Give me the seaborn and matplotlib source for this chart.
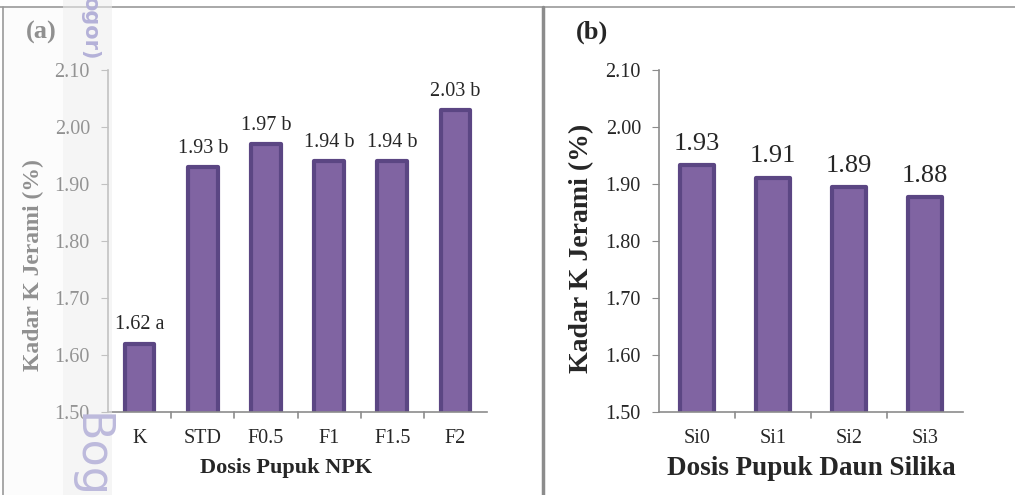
import numpy as np
import pandas as pd
import matplotlib.pyplot as plt
import seaborn as sns
from matplotlib.lines import Line2D
from matplotlib.patches import Rectangle

# data panel (a)
npk_levels = ['K', 'STD', 'F0.5', 'F1', 'F1.5', 'F2']
npk_values = [1.62, 1.93, 1.97, 1.94, 1.94, 2.03]
npk_letters = ['a', 'b', 'b', 'b', 'b', 'b']

# data panel (b)
si_levels = ['Si0', 'Si1', 'Si2', 'Si3']
si_values = [1.933, 1.911, 1.895, 1.877]
si_labels = ['1.93', '1.91', '1.89', '1.88']

yticks = [1.50, 1.60, 1.70, 1.80, 1.90, 2.00, 2.10]

sns.set_style('white')
plt.rcParams['font.family'] = ['Liberation Serif', 'DejaVu Serif']

fill = '#8064A2'
edge = '#5B4683'
axis_gray = '#8C8C8C'

fig = plt.figure(figsize=(10.15, 4.95), dpi=100)
W, H = 1015, 495

def px_axes(left, top, right, bottom):
    return fig.add_axes([left / W, 1 - bottom / H, (right - left) / W, (bottom - top) / H])

ax1 = px_axes(108, 70, 487, 412)
ax2 = px_axes(659, 70, 963, 412)

df1 = pd.DataFrame({'dosis': npk_levels, 'kadar': npk_values})
df2 = pd.DataFrame({'dosis': si_levels, 'kadar': si_values})

sns.barplot(data=df1, x='dosis', y='kadar', ax=ax1, color=fill, width=0.47,
            edgecolor=edge, linewidth=3, saturation=1)
sns.barplot(data=df2, x='dosis', y='kadar', ax=ax2, color=fill, width=0.45,
            edgecolor=edge, linewidth=3, saturation=1)

for ax, n in [(ax1, len(npk_levels)), (ax2, len(si_levels))]:
    for p in ax.patches:
        p.set_joinstyle('round')
    ax.set_ylim(1.50, 2.10)
    ax.set_xlim(-0.5, n - 0.5)
    ax.set_yticks(yticks)
    ax.set_yticklabels([f'{t:.2f}' for t in yticks], fontsize=14.5)
    ax.set_xticks(range(n))
    ax.tick_params(axis='x', length=0, labelsize=14.5, pad=12)
    ax.tick_params(axis='y', length=5, color=axis_gray, direction='out', pad=8, left=True)
    # category boundary ticks
    for b in np.arange(0.5, n - 0.5, 1.0):
        ax.add_line(Line2D([b, b], [0, -0.018], transform=ax.get_xaxis_transform(),
                           color=axis_gray, lw=1.2, clip_on=False))
    for side in ['top', 'right']:
        ax.spines[side].set_visible(False)
    for side in ['left', 'bottom']:
        ax.spines[side].set_color(axis_gray)
        ax.spines[side].set_linewidth(1.2)

ax1.set_ylabel('Kadar K Jerami (%)', fontsize=17, fontweight='bold')
ax1.yaxis.set_label_coords(-0.169, 0.43)
ax2.set_ylabel('Kadar K Jerami (%)', fontsize=20, fontweight='bold')
ax2.yaxis.set_label_coords(-0.215, 0.477)

ax1.set_xlabel('Dosis Pupuk NPK', fontsize=16, fontweight='bold')
ax1.xaxis.set_label_coords(0.47, -0.135)
ax2.set_xlabel('Dosis Pupuk Daun Silika', fontsize=19.5, fontweight='bold')
ax2.xaxis.set_label_coords(0.5, -0.13)

for i, (v, l) in enumerate(zip(npk_values, npk_letters)):
    ax1.text(i, v + 0.016, f'{v:.2f} {l}', ha='center', va='bottom', fontsize=14.5)
for i, (v, l) in enumerate(zip(si_values, si_labels)):
    ax2.text(i, v + 0.018, l, ha='center', va='bottom', fontsize=19)

fig.text(26 / W, 1 - 32 / H, '(a)', fontsize=19, fontweight='bold', va='center', ha='left')
fig.text(576 / W, 1 - 32 / H, '(b)', fontsize=19, fontweight='bold', va='center', ha='left')

# frame lines
fig.add_artist(Line2D([0, 1], [1 - 7 / H, 1 - 7 / H], color='#9A9A9A', lw=1.2))
fig.add_artist(Line2D([3 / W, 3 / W], [0, 1 - 7 / H], color='#9A9A9A', lw=1.2))
fig.add_artist(Line2D([543 / W, 543 / W], [0, 1 - 7 / H], color='#8C8C8C', lw=2.5))

# watermark strip on the left
fig.add_artist(Rectangle((4 / W, 0), 59 / W, 1 - 8 / H, transform=fig.transFigure,
                         facecolor='#FAFAFA', alpha=0.5, edgecolor='none', zorder=5))
fig.add_artist(Rectangle((63 / W, 0), 49 / W, 1, transform=fig.transFigure,
                         facecolor='#EEEEEE', alpha=0.55, edgecolor='none', zorder=5))
fig.text(90 / W, 1 - 28 / H, 'ogor)', rotation=-90, fontsize=15, color='#B4B1D8',
         fontweight='bold', family=['DejaVu Sans'], ha='center', va='center', zorder=6)
fig.text(90 / W, 1 - 413 / H, 'Bog', rotation=-90, fontsize=32, color='#BDBADC',
         family=['DejaVu Sans'], ha='center', va='top', zorder=6)

fig.savefig('out.png', dpi=100)
